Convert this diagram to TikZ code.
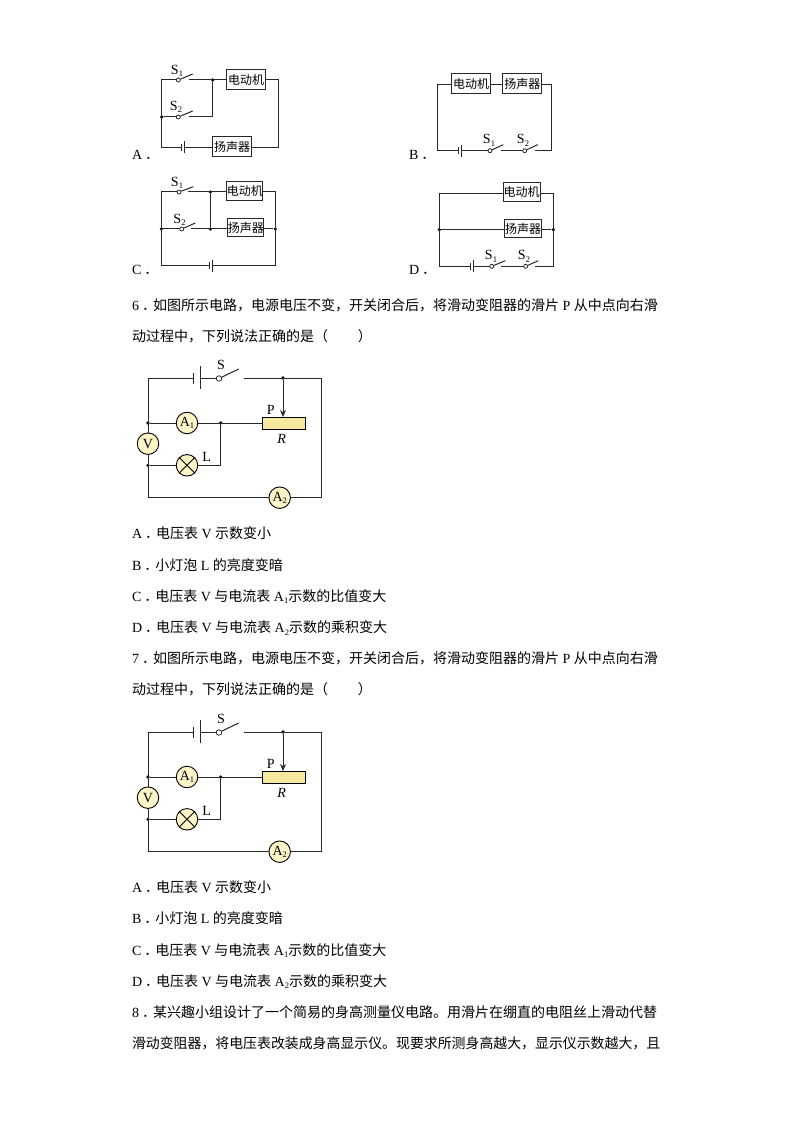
\documentclass[tikz,border=0pt]{standalone}
\usepackage{fontspec}
\setmainfont{Liberation Serif}
\newfontfamily\cjk{Noto Sans CJK SC}
\usetikzlibrary{arrows.meta}
\definecolor{wire}{RGB}{40,40,40}
\definecolor{meter}{RGB}{253,245,200}
\definecolor{rbar}{RGB}{247,232,160}
\newcommand{\zh}[1]{{\cjk #1}}
\newcommand{\subn}[1]{\raisebox{-2.5pt}{\fontsize{8.5}{8.5}\selectfont #1}}
\newcommand{\dotp}{\hspace{3pt}\zh{．}\hspace{-3pt}}
\tikzset{
 txt/.style={anchor=base west,inner sep=0,outer sep=0,font=\fontsize{14}{14}\selectfont,text=black},
 wirepath/.style={draw=wire,line width=1pt},
 devbox/.style={draw=wire,line width=1pt,fill=white,inner sep=0,minimum width=39pt,minimum height=20pt,font=\cjk\fontsize{12}{12}\selectfont},
 dot/.style={circle,fill=black,inner sep=0,minimum size=3.6pt},
 swc/.style={circle,draw=wire,line width=0.8pt,fill=white,inner sep=0,minimum size=4pt},
 lab/.style={inner sep=0,font=\fontsize{14}{14}\selectfont},
 mtr/.style={circle,draw=black,line width=0.9pt,fill=meter,inner sep=0,minimum size=21.5pt,font=\fontsize{14}{14}\selectfont},
 rbox/.style={draw=black,line width=0.9pt,fill=rbar,inner sep=0,minimum width=43pt,minimum height=12.5pt},
}
\newcommand{\batt}[3]{% short x, long x, y
 \draw[wirepath] (#1,#3-3.5) -- (#1,#3+3.5);
 \draw[wirepath] (#2,#3-6) -- (#2,#3+6);
}
\newcommand{\circuit}[2]{% name prefix, y shift
\begin{scope}[shift={(0,#2)}]
 \coordinate (#1tl) at (148,378);\coordinate (#1tr) at (321.3,378);
 \coordinate (#1bl) at (148,497.7);\coordinate (#1br) at (321.3,497.7);
 \coordinate (#1b1) at (193.7,378);\coordinate (#1b2) at (200.7,378);
 \coordinate (#1res) at (244.3,378);
 \node[dot] (#1j1) at (283,378) {};
 \node[dot] (#1j2) at (148,423) {};
 \node[dot] (#1j3) at (148,465.3) {};
 \node[dot] (#1j4) at (220.7,423) {};
 \coordinate (#1lc) at (220.7,465.3);
 \draw[wirepath] (#1b1) -- (#1tl) -- (#1bl) -- (#1br) -- (#1tr) -- (#1res);
 \draw[wirepath] (#1b2) -- (219,378);
 \draw[wirepath] (#1b1)+(0,-5.5) -- +(0,5.5);
 \draw[wirepath] (#1b2)+(0,-12) -- +(0,11);
 \node[swc,minimum size=5.5pt] (#1sw) at (219,378.5) {};
 \coordinate (#1blade) at (238.7,369);
 \draw[wirepath] (#1sw) -- (#1blade);
 \draw[wirepath] (#1j2) -- (262.3,423);
 \draw[wirepath] (#1j3) -- (#1lc) -- (#1j4);
 \node[rbox] (#1R) at (283.7,423.3) {};
 \draw[wirepath,-{Stealth[length=7pt,width=6pt]}] (#1j1) -- (283,417);
 \node[mtr] (#1A1) at (187,423) {A\subn{1}};
 \node[mtr] (#1V) at (148,443.7) {V};
 \node[mtr] (#1L) at (187,465.3) {};
 \draw[black,line width=0.9pt] (#1L.45) -- (#1L.225) (#1L.135) -- (#1L.315);
 \node[mtr] (#1A2) at (279.7,497.7) {A\subn{2}};
 \node[lab] (#1ts) at (221,364.5) {S};
 \node[lab] (#1tp) at (270.7,409.5) {P};
 \node[lab,font=\fontsize{14}{14}\selectfont\itshape] (#1tr2) at (281.7,439.3) {R};
 \node[lab] (#1tl2) at (206.7,456.5) {L};
\end{scope}
}
\newcommand{\sw}[5]{% circle x,y, tip x,y, name
 \node[swc] (#5) at (#1,#2) {};
 \coordinate (#5t) at (#3,#4);
 \draw[wirepath] (#5) -- (#5t);
}
\newcommand{\slab}[4]{\node[lab] (#4) at (#1,#2) {S\subn{#3}};}
\begin{document}
\begin{tikzpicture}[x=1pt,y=-1pt]
\useasboundingbox[fill=white] (0,0) rectangle (794,1123);
% Circuit A
\coordinate (atl) at (161.7,80);\coordinate (atr) at (278.3,80);
\coordinate (abl) at (161.7,147.3);\coordinate (abr) at (278.3,147.3);
\node[dot] (aj1) at (212.7,80) {};
\node[dot] (aj2) at (161.7,117) {};
\coordinate (aj1b) at (212.7,117);
\node[devbox] (am) at (246.2,79.7) {电动机};
\node[devbox] (as) at (232.2,146.7) {扬声器};
\draw[wirepath] (178,80) -- (atl) -- (abl) -- (181.3,147.3);
\draw[wirepath] (185,147.3) -- (as.west|-abl);
\draw[wirepath] (as.east|-abr) -- (abr) -- (atr) -- (am.east|-atr);
\draw[wirepath] (189,80) -- (am.west|-atl);
\draw[wirepath] (aj2) -- (178,117);
\draw[wirepath] (189,117) -- (aj1b) -- (aj1);
\batt{181.3}{184.6}{147.3}
\sw{178.3}{80}{192.7}{74}{asw1}
\sw{178.3}{117}{192.7}{111}{asw2}
\slab{177}{71}{1}{at1}
\slab{176}{107}{2}{at2}
\node[txt] (la) at (132,160) {A\dotp};
% Circuit B
\coordinate (btl) at (437.3,85);\coordinate (btr) at (551.3,85);
\coordinate (bbl) at (437.3,150.7);\coordinate (bbr) at (551.3,150.7);
\node[devbox] (bm) at (471.2,83.8) {电动机};
\node[devbox] (bs) at (522.3,83.8) {扬声器};
\draw[wirepath] (bm.west|-btl) -- (btl) -- (bbl) -- (458.3,150.7);
\draw[wirepath] (bm.east|-btl) -- (bs.west|-btl);
\draw[wirepath] (bs.east|-btr) -- (btr) -- (bbr) -- (535,150.7);
\draw[wirepath] (462,150.7) -- (490,150.7);
\draw[wirepath] (500.7,150.7) -- (524.7,150.7);
\batt{458.6}{461.8}{150.7}
\sw{490}{150.7}{503.3}{144.7}{bsw1}
\sw{524.7}{150.7}{537.7}{144.7}{bsw2}
\slab{489}{140.5}{1}{bt1}
\slab{523}{140.5}{2}{bt2}
\node[txt] (lb) at (409,160) {B\dotp};
% Circuit C
\coordinate (ctl) at (161.3,192);\coordinate (ctr) at (275.3,192);
\coordinate (cbl) at (161.3,265.7);\coordinate (cbr) at (275.3,265.7);
\node[dot] (cj1) at (210.3,192) {};
\node[dot] (cj2) at (210.3,229) {};
\node[dot] (cj3) at (161.3,229) {};
\node[dot] (cj4) at (275.3,229) {};
\node[devbox,minimum width=35pt,minimum height=18.7pt] (cm) at (244.8,190.7) {电动机};
\node[devbox,minimum width=35pt,minimum height=18.4pt] (cs) at (245.8,227.5) {扬声器};
\draw[wirepath] (179,192) -- (ctl) -- (cbl) -- (209.3,265.7);
\draw[wirepath] (212.7,265.7) -- (cbr) -- (ctr) -- (cm.east|-ctr);
\draw[wirepath] (188.3,192) -- (cm.west|-ctl);
\draw[wirepath] (cj1) -- (cj2);
\draw[wirepath] (cj3) -- (181.7,229);
\draw[wirepath] (191.3,229) -- (cs.west|-cj2);
\draw[wirepath] (cs.east|-cj4) -- (cj4);
\batt{209.3}{212.7}{265.7}
\sw{179}{192}{193.3}{186.7}{csw1}
\sw{181.7}{229}{195.3}{223}{csw2}
\slab{177}{183}{1}{ct1}
\slab{179.5}{220}{2}{ct2}
\node[txt] (lc) at (132,274.5) {C\dotp};
% Circuit D
\coordinate (dtl) at (439.3,193.3);\coordinate (dtr) at (553.3,193.3);
\coordinate (dbl) at (439.3,266.3);\coordinate (dbr) at (553.3,266.3);
\node[dot] (dj1) at (439.3,229.7) {};
\node[dot] (dj2) at (553.3,229.7) {};
\node[devbox,minimum width=36.7pt,minimum height=18.7pt] (dm) at (521.7,192) {电动机};
\node[devbox,minimum width=37pt,minimum height=17.7pt] (ds) at (523.2,228.8) {扬声器};
\draw[wirepath] (dm.west|-dtl) -- (dtl) -- (dbl) -- (470.7,266.3);
\draw[wirepath] (dm.east|-dtr) -- (dtr) -- (dbr) -- (535,266.3);
\draw[wirepath] (dj1) -- (ds.west|-dj1);
\draw[wirepath] (ds.east|-dj2) -- (dj2);
\draw[wirepath] (473.7,266.3) -- (491.7,266.3);
\draw[wirepath] (501,266.3) -- (525.7,266.3);
\batt{470.7}{473.7}{266.3}
\sw{491.7}{266.3}{505.3}{260.7}{dsw1}
\sw{525.7}{266.3}{538.3}{260.7}{dsw2}
\slab{491}{256.5}{1}{dt1}
\slab{524}{256.5}{2}{dt2}
\node[txt] (ld) at (409,274.5) {D\dotp};
% Circuits 6, 7
\circuit{s}{0}
\circuit{t}{354}
% Text
\node[txt] (q6a) at (132,310.5) {6\dotp\zh{如图所示电路，电源电压不变，开关闭合后，将滑动变阻器的滑片} P \zh{从中点向右滑}};
\node[txt] (q6b) at (132,341.5) {\zh{动过程中，下列说法正确的是（\hspace{30pt}）}};
\node[txt] (o1) at (132,538.5) {A\dotp\zh{电压表} V \zh{示数变小}};
\node[txt] (o2) at (132,570) {B\dotp\zh{小灯泡} L \zh{的亮度变暗}};
\node[txt] (o3) at (132,601) {C\dotp\zh{电压表} V \zh{与电流表} A\subn{1}\zh{示数的比值变大}};
\node[txt] (o4) at (132,632.5) {D\dotp\zh{电压表} V \zh{与电流表} A\subn{2}\zh{示数的乘积变大}};
\node[txt] (q7a) at (132,663.5) {7\dotp\zh{如图所示电路，电源电压不变，开关闭合后，将滑动变阻器的滑片} P \zh{从中点向右滑}};
\node[txt] (q7b) at (132,694.5) {\zh{动过程中，下列说法正确的是（\hspace{30pt}）}};
\node[txt] (p1) at (132,892.5) {A\dotp\zh{电压表} V \zh{示数变小}};
\node[txt] (p2) at (132,923.5) {B\dotp\zh{小灯泡} L \zh{的亮度变暗}};
\node[txt] (p3) at (132,955) {C\dotp\zh{电压表} V \zh{与电流表} A\subn{1}\zh{示数的比值变大}};
\node[txt] (p4) at (132,986) {D\dotp\zh{电压表} V \zh{与电流表} A\subn{2}\zh{示数的乘积变大}};
\node[txt] (q8a) at (132,1017.5) {8\dotp\zh{某兴趣小组设计了一个简易的身高测量仪电路。用滑片在绷直的电阻丝上滑动代替}};
\node[txt,font=\fontsize{13.9}{14}\selectfont] (q8b) at (132,1048.5) {\zh{滑动变阻器，将电压表改装成身高显示仪。现要求所测身高越大，显示仪示数越大，且}};
\end{tikzpicture}
\end{document}
